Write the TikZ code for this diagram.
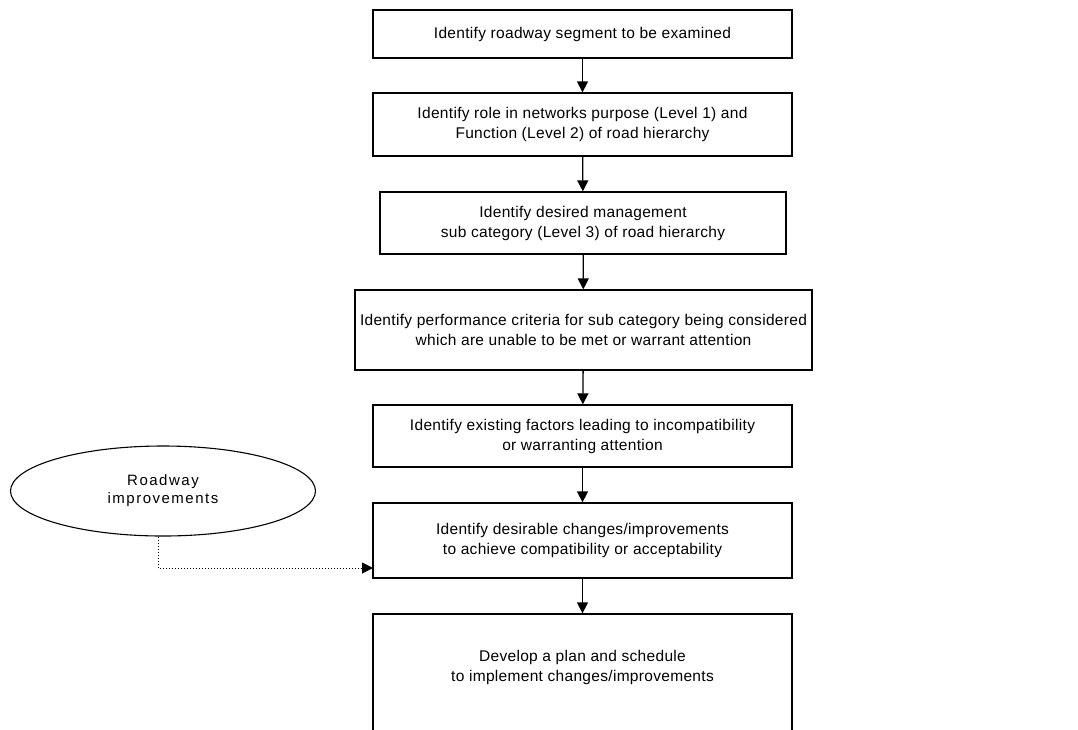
\documentclass[tikz,border=0pt]{standalone}
\usepackage{fontspec}
\setmainfont{Liberation Sans}
\newfontfamily\widefont[LetterSpace=10]{Liberation Sans}
\newfontfamily\boxfont[LetterSpace=2]{Liberation Sans}
\usetikzlibrary{shapes.geometric,arrows.meta}

\begin{document}
\begin{tikzpicture}
  [x=1pt,y=-1pt,line width=1.3pt,
   box/.style={draw,align=center,inner sep=0pt,font=\boxfont\fontsize{15.5}{20}\selectfont},
   oval/.style={draw,ellipse,line width=1.1pt,inner sep=0pt,align=center,font=\widefont\fontsize{15}{18}\selectfont},
   link/.style={-{Triangle[length=11pt,width=11pt]}}]
  \useasboundingbox (0,0) rectangle (1078,729);
  \node[box,minimum width=419,minimum height=48] (s1) at (582.5,34) {Identify roadway segment to be examined};
  \node[box,minimum width=419,minimum height=63] (s2) at (582.5,124.5) {Identify role in networks purpose (Level 1) and\\ Function (Level 2) of road hierarchy};
  \node[box,minimum width=406,minimum height=62] (s3) at (583,223) {Identify desired management\\ sub category (Level 3) of road hierarchy};
  \node[box,minimum width=457,minimum height=80] (s4) at (583.5,330) {Identify performance criteria for sub category being considered\\ which are unable to be met or warrant attention};
  \node[box,minimum width=419,minimum height=62] (s5) at (582.5,436) {Identify existing factors leading to incompatibility\\ or warranting attention};
  \node[box,minimum width=419,minimum height=75] (s6) at (582.5,540.5) {Identify desirable changes/improvements\\ to achieve compatibility or acceptability};
  \node[box,minimum width=419,minimum height=140] (s7) at (582.5,684) {};
  \node[font=\boxfont\fontsize{15.5}{20}\selectfont,align=center] (t7) at (582.5,667) {Develop a plan and schedule\\ to implement changes/improvements};
  \node[oval,minimum width=305,minimum height=90] (r) at (163,491) {Roadway\\ improvements};
  \coordinate (in6) at (373,568);

  \foreach \from/\to in {s1/s2,s2/s3,s3/s4,s4/s5,s5/s6,s6/s7}
    \draw[link] (\from) -- (\to);
  \draw[link,dotted,line width=1pt] ([xshift=-5pt]r.south) |- (in6);
\end{tikzpicture}
\end{document}
